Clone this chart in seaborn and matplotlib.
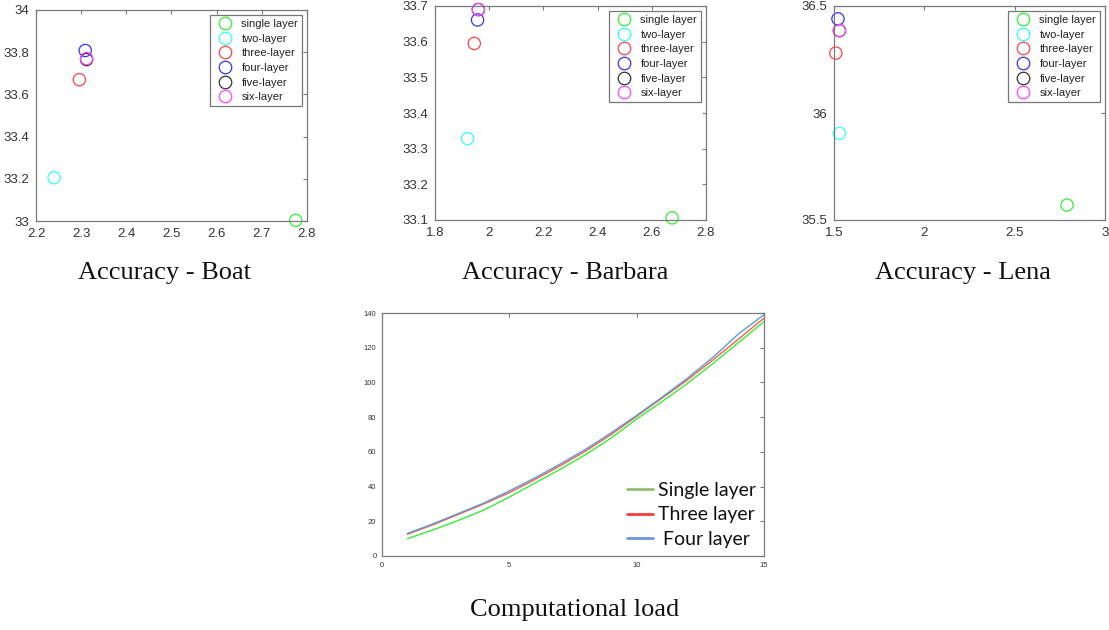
import matplotlib
matplotlib.use("Agg")
import matplotlib.pyplot as plt
import seaborn as sns
import pandas as pd
from matplotlib.lines import Line2D

sns.set_theme(style="white")
plt.rcParams['font.family'] = ['Liberation Sans', 'DejaVu Sans']

layers = ["single layer", "two-layer", "three-layer", "four-layer", "five-layer", "six-layer"]
layer_colors = ["#33ee33", "#33ffff", "#ff4444", "#3333ff", "#333333", "#ff44ff"]

boat_x = [2.775, 2.240, 2.296, 2.309, 2.312, 2.312]
boat_y = [33.003, 33.205, 33.670, 33.808, 33.765, 33.770]
barbara_x = [2.675, 1.920, 1.945, 1.957, 1.960, 1.960]
barbara_y = [33.106, 33.328, 33.595, 33.661, 33.690, 33.690]
lena_x = [2.790, 1.530, 1.510, 1.522, 1.530, 1.530]
lena_y = [35.570, 35.905, 36.280, 36.440, 36.385, 36.385]

load_x = list(range(1, 16))
single_load = [10, 15, 20.5, 26.5, 34, 42, 50, 58.5, 68, 79, 89, 99.5, 111, 123, 135]
three_load = [12.5, 18, 24, 30, 36.5, 44, 52, 60.5, 70, 80.5, 91, 101.5, 113, 125, 137]
four_load = [13, 18.5, 24.5, 30.5, 37.5, 45, 53, 61.5, 71, 81, 91.5, 102.5, 114.5, 128, 139]
load_names = ["Single layer", "Three layer", " Four layer"]
load_colors = ["#33ee33", "#ff5a4a", "#5b9bd5"]

fig = plt.figure(figsize=(11.09, 6.3), dpi=100)

EDGE = "#7a7a7a"
TICKC = "#333333"

def style_axes(ax, fs, pad):
    for s in ax.spines.values():
        s.set_color(EDGE)
        s.set_linewidth(0.9)
        s.set_visible(True)
    ax.tick_params(direction="in", length=3, width=0.8, color=EDGE,
                   top=True, right=True, labelsize=fs, labelcolor=TICKC, pad=pad)
    ax.set_xlabel("")
    ax.set_ylabel("")
    ax.grid(False)

panels = [
    ([36, 10, 307, 221], boat_x, boat_y, (2.2, 2.8), [2.2, 2.3, 2.4, 2.5, 2.6, 2.7, 2.8], ["2.2", "2.3", "2.4", "2.5", "2.6", "2.7", "2.8"],
     (33, 34), [33, 33.2, 33.4, 33.6, 33.8, 34], ["33", "33.2", "33.4", "33.6", "33.8", "34"], "Accuracy - Boat", 165),
    ([435, 6, 706, 220], barbara_x, barbara_y, (1.8, 2.8), [1.8, 2.0, 2.2, 2.4, 2.6, 2.8], ["1.8", "2", "2.2", "2.4", "2.6", "2.8"],
     (33.1, 33.7), [33.1, 33.2, 33.3, 33.4, 33.5, 33.6, 33.7], ["33.1", "33.2", "33.3", "33.4", "33.5", "33.6", "33.7"], "Accuracy - Barbara", 565),
    ([834, 6, 1105, 220], lena_x, lena_y, (1.5, 3.0), [1.5, 2.0, 2.5, 3.0], ["1.5", "2", "2.5", "3"],
     (35.5, 36.5), [35.5, 36.0, 36.5], ["35.5", "36", "36.5"], "Accuracy - Lena", 963),
]

W, H = 1109, 630
for box, xs, ys, xl, xt, xtl, yl, yt, ytl, title, tcx in panels:
    l, t, r, b = box
    ax = fig.add_axes([l / W, 1 - b / H, (r - l) / W, (b - t) / H])
    df = pd.DataFrame({"x": xs, "y": ys, "layer": layers})
    sns.scatterplot(data=df, x="x", y="y", hue="layer", hue_order=layers,
                    palette=dict(zip(layers, layer_colors)), ax=ax,
                    s=78, marker="o", linewidth=0.9, legend=False,
                    clip_on=False)
    for coll in ax.collections:
        coll.set_facecolor("none")
        coll.set_edgecolors([layer_colors[layers.index(n)] for n in layers])
    ax.set_xlim(*xl)
    ax.set_ylim(*yl)
    ax.set_xticks(xt)
    ax.set_xticklabels(xtl)
    ax.set_yticks(yt)
    ax.set_yticklabels(ytl)
    style_axes(ax, 9.5, 5)
    handles = [Line2D([], [], marker="o", linestyle="none", markersize=9,
                      markerfacecolor="none", markeredgecolor=c, markeredgewidth=0.9)
               for c in layer_colors]
    leg = ax.legend(handles, layers, loc="upper right", fontsize=8, frameon=True,
                    fancybox=False, borderaxespad=0.45, handletextpad=0.5,
                    labelspacing=0.42, borderpad=0.35, handlelength=2.0)
    leg.get_frame().set_edgecolor("#555555")
    leg.get_frame().set_linewidth(0.9)
    for txt in leg.get_texts():
        txt.set_color("#222222")
    fig.text(tcx / W, 1 - 273 / H, title, ha="center", va="center",
             fontsize=19, family=["Liberation Serif", "DejaVu Serif"], color="#111111")

# Computational load panel
l, t, r, b = 382, 313, 764, 556
ax = fig.add_axes([l / W, 1 - b / H, (r - l) / W, (b - t) / H])
ldf = pd.DataFrame({
    "x": load_x * 3,
    "y": single_load + three_load + four_load,
    "series": [load_names[0]] * 15 + [load_names[1]] * 15 + [load_names[2]] * 15,
})
sns.lineplot(data=ldf, x="x", y="y", hue="series", hue_order=load_names,
             palette=dict(zip(load_names, load_colors)), ax=ax, linewidth=1.0, legend=False)
ax.set_xlim(0, 15)
ax.set_ylim(0, 140)
ax.set_xticks([0, 5, 10, 15])
ax.set_yticks([0, 20, 40, 60, 80, 100, 120, 140])
style_axes(ax, 5.5, 4)
lh = [Line2D([], [], color=c, linewidth=2) for c in ["#8dc26f", "#ff3b3b", "#6f96d6"]]
leg = ax.legend(lh, load_names, loc="lower right", frameon=False,
                prop={"family": ["Lato", "DejaVu Sans"], "size": 14},
                handlelength=1.35, handletextpad=0.25, labelspacing=0.4,
                borderaxespad=0.0)
for txt in leg.get_texts():
    txt.set_color("#111111")
fig.text(575 / W, 1 - 610 / H, "Computational load", ha="center", va="center",
         fontsize=19, family=["Liberation Serif", "DejaVu Serif"], color="#111111")

fig.savefig("out.png", dpi=100)
